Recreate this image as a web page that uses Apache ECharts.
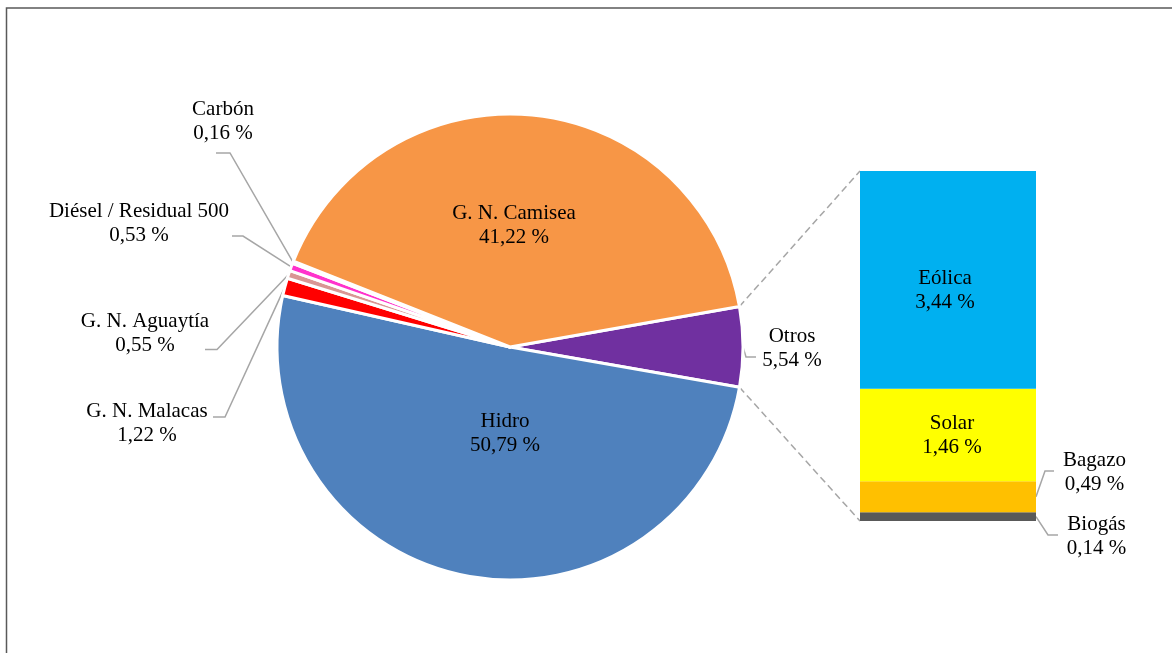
<!DOCTYPE html>
<html>
<head>
<meta charset="utf-8">
<script src="https://cdn.jsdelivr.net/npm/echarts@6/dist/echarts.min.js"></script>
<style>
  html, body { margin: 0; padding: 0; background: #fff; }
  #chart { width: 1172px; height: 653px; }
</style>
</head>
<body>
<div id="chart"></div>
<script>
// Participación por fuente (%), en sentido horario desde "Otros"
const pieNames = ['Otros', 'Hidro', 'G. N. Malacas', 'G. N. Aguaytía', 'Diésel / Residual 500', 'Carbón', 'G. N. Camisea'];
const pieValues = [5.54, 50.79, 1.22, 0.55, 0.53, 0.16, 41.22];
const pieColors = ['#7030a0', '#4f81bd', '#ff0000', '#d99694', '#ff33cc', '#ffffff', '#f79646'];

// Desglose de "Otros", de abajo hacia arriba
const otherNames = ['Biogás', 'Bagazo', 'Solar', 'Eólica'];
const otherValues = [0.14, 0.49, 1.46, 3.44];
const otherColors = ['#595959', '#ffc000', '#ffff00', '#00b0f0'];

// Geometría de la torta
const PIE_CX = 510, PIE_CY = 347, PIE_R = 233, START_ANGLE = 10;
const insideNames = ['Hidro', 'G. N. Camisea'];

// Ubicación de las etiquetas (centro del texto) y quiebre de sus líneas guía
const pieLabelPos = {
  'Otros':                 { x: 792,   y: 348,   line: [[746, 357], [756, 357]] },
  'Hidro':                 { x: 505,   y: 433 },
  'G. N. Camisea':         { x: 514,   y: 225 },
  'G. N. Malacas':         { x: 147,   y: 423,   line: [[225, 417], [213, 417]] },
  'G. N. Aguaytía':        { x: 145,   y: 333,   line: [[217, 349.5], [205, 349.5]] },
  'Diésel / Residual 500': { x: 139,   y: 223,   line: [[243, 236], [232, 236]] },
  'Carbón':                { x: 223,   y: 121.5, line: [[230, 153], [216, 153]] }
};
const barLabelPos = {
  'Eólica': { x: 945,    y: 290.5 },
  'Solar':  { x: 952,    y: 435 },
  'Bagazo': { x: 1094.5, y: 472, line: [[1045, 471], [1054, 471]] },
  'Biogás': { x: 1096.5, y: 536, line: [[1048, 535], [1058, 535]] }
};

const FONT = { fontFamily: 'Liberation Serif', fontSize: 21, lineHeight: 24, color: '#000' };
const GUIDE = { color: '#a6a6a6', width: 1.5 };

function pct(v) { return v.toFixed(2).replace('.', ',') + ' %'; }

const chart = echarts.init(document.getElementById('chart'), null, { renderer: 'canvas' });

const pieData = pieNames.map((name, i) => {
  const inside = insideNames.indexOf(name) >= 0;
  return {
    name: name,
    value: pieValues[i],
    itemStyle: { color: pieColors[i] },
    label: { position: inside ? 'inside' : 'outside' },
    labelLine: { show: !inside }
  };
});

const otherTotal = otherValues.reduce((a, b) => a + b, 0);

const barSeries = otherNames.map((name, i) => ({
  type: 'bar',
  name: name,
  stack: 'otros',
  xAxisIndex: 0,
  yAxisIndex: 0,
  barWidth: '100%',
  data: [otherValues[i]],
  itemStyle: { color: otherColors[i] },
  label: Object.assign({
    show: true,
    position: 'inside',
    formatter: () => name + '\n' + pct(otherValues[i])
  }, FONT),
  labelLayout: () => {
    const p = barLabelPos[name];
    return { x: p.x, y: p.y, align: 'center', verticalAlign: 'middle' };
  },
  emphasis: { disabled: true },
  silent: true
}));

chart.setOption({
  animation: false,
  backgroundColor: '#fff',
  grid: { left: 860, top: 171, width: 176, height: 350 },
  xAxis: { type: 'category', data: ['Otros'], show: false },
  yAxis: { type: 'value', min: 0, max: otherTotal, show: false },
  series: [
    {
      type: 'pie',
      center: [PIE_CX, PIE_CY],
      radius: PIE_R,
      startAngle: START_ANGLE,
      clockwise: true,
      avoidLabelOverlap: false,
      silent: true,
      emphasis: { disabled: true },
      itemStyle: { borderColor: '#fff', borderWidth: 3 },
      label: Object.assign({
        show: true,
        formatter: (p) => p.name + '\n' + pct(p.value)
      }, FONT),
      labelLine: { show: true, length: 10, length2: 10, smooth: false, lineStyle: GUIDE },
      labelLayout: (params) => {
        const name = pieNames[params.dataIndex];
        const p = pieLabelPos[name];
        const out = { x: p.x, y: p.y, align: 'center', verticalAlign: 'middle' };
        if (p.line && params.labelLinePoints) {
          out.labelLinePoints = [params.labelLinePoints[0], p.line[0], p.line[1]];
        }
        return out;
      },
      data: pieData
    }
  ].concat(barSeries)
});

// Líneas de conexión entre la porción "Otros" y la barra de desglose,
// más las líneas guía de las etiquetas exteriores de la barra
const pieTotal = pieValues.reduce((a, b) => a + b, 0);
const otrosIdx = pieNames.indexOf('Otros');
let acc = 0;
for (let i = 0; i < otrosIdx; i++) acc += pieValues[i];
const a1 = (START_ANGLE - acc / pieTotal * 360) * Math.PI / 180;
const a2 = (START_ANGLE - (acc + pieValues[otrosIdx]) / pieTotal * 360) * Math.PI / 180;
const rimTop = [PIE_CX + PIE_R * Math.cos(a1), PIE_CY - PIE_R * Math.sin(a1)];
const rimBottom = [PIE_CX + PIE_R * Math.cos(a2), PIE_CY - PIE_R * Math.sin(a2)];

const barLeft = chart.convertToPixel({ xAxisIndex: 0 }, 'Otros') - 88;
const barRight = barLeft + 176;
const barTop = chart.convertToPixel({ yAxisIndex: 0 }, otherTotal);
const barBottom = chart.convertToPixel({ yAxisIndex: 0 }, 0);

const graphics = [
  {
    type: 'rect',
    shape: { x: 6.5, y: 8, width: 1200, height: 700 },
    style: { fill: 'none', stroke: '#595959', lineWidth: 1.5 },
    silent: true
  },
  {
    type: 'line',
    shape: { x1: rimTop[0], y1: rimTop[1], x2: barLeft, y2: barTop },
    style: { stroke: '#a6a6a6', lineWidth: 1.5, lineDash: [7, 4] },
    silent: true
  },
  {
    type: 'line',
    shape: { x1: rimBottom[0], y1: rimBottom[1], x2: barLeft, y2: barBottom },
    style: { stroke: '#a6a6a6', lineWidth: 1.5, lineDash: [7, 4] },
    silent: true
  }
];

let cum = 0;
otherNames.forEach((name, i) => {
  const mid = cum + otherValues[i] / 2;
  cum += otherValues[i];
  const p = barLabelPos[name];
  if (!p.line) return;
  const y0 = chart.convertToPixel({ yAxisIndex: 0 }, mid);
  graphics.push({
    type: 'polyline',
    shape: { points: [[barRight, y0], p.line[0], p.line[1]] },
    style: { stroke: GUIDE.color, lineWidth: GUIDE.width, fill: 'none' },
    silent: true
  });
});

chart.setOption({ graphic: graphics });
</script>
</body>
</html>
